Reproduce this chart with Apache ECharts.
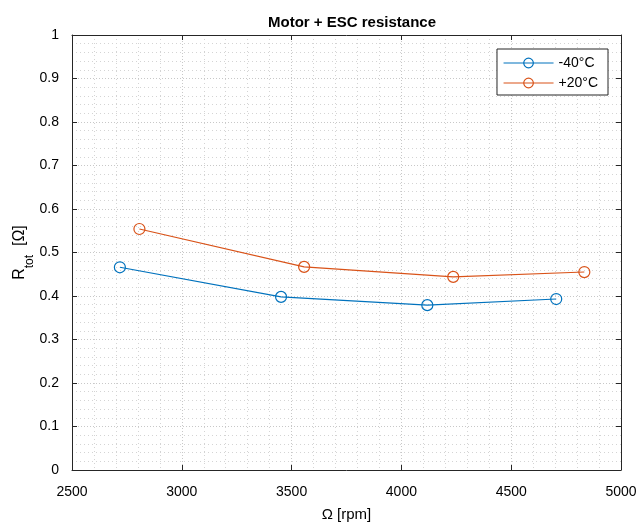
<!DOCTYPE html>
<html><head><meta charset="utf-8">
<script src="https://cdn.jsdelivr.net/npm/echarts@6/dist/echarts.min.js"></script>
<style>html,body{margin:0;padding:0;background:#fff}#c{width:640px;height:524px}</style>
</head><body><div id="c"></div>
<script>
const seriesNames = ['-40°C', '+20°C'];
const rpmCold = [2718, 3452, 4118, 4705];
const rCold = [0.466, 0.398, 0.379, 0.393];
const rpmWarm = [2807, 3557, 4236, 4833];
const rWarm = [0.554, 0.467, 0.444, 0.455];
const colors = ['#0072BD', '#D95319'];

const FONT = '"Liberation Sans", Arial, Helvetica, sans-serif';
const gridStyle = {show:true, lineStyle:{color:'#c8c8c8', type:[1,2], width:1}};
const minorStyle = {show:true, lineStyle:{color:'#d4d4d4', type:[1,3], width:1}};
const axisLine = {show:true, onZero:false, lineStyle:{color:'#262626', width:1}};
const tick = {show:true, inside:true, length:5, lineStyle:{color:'#262626'}};

function mk(name, xs, ys, c) {
  return {
    name: name, type:'line', data: xs.map((x,i)=>[x, ys[i]]),
    symbol:'circle', symbolSize:11,
    itemStyle:{color:'rgba(255,255,255,0)', borderColor:c, borderWidth:1.2},
    lineStyle:{color:c, width:1.1}, emphasis:{disabled:true}, animation:false, z:3
  };
}

const chart = echarts.init(document.getElementById('c'), null, {renderer:'canvas'});
chart.setOption({
  backgroundColor:'#fff',
  animation:false,
  title:{text:'Motor + ESC resistance', left:347, top:10, textAlign:'center',
    textStyle:{fontFamily:FONT, fontSize:15, fontWeight:'bold', color:'#000'}},
  legend:{right:32, top:49, orient:'vertical', backgroundColor:'#fff',
    borderColor:'#262626', borderWidth:1, padding:[7,10,5,6], itemGap:6,
    itemWidth:50, itemHeight:12,
    itemStyle:{borderWidth:1.2}, lineStyle:{width:1.1},
    textStyle:{fontFamily:FONT, fontSize:14, color:'#000'},
    data: seriesNames},
  grid:{left:72, right:19, top:35, bottom:54, containLabel:false, outerBoundsMode:'none'},
  xAxis:[{type:'value', min:2500, max:5000, interval:500, position:'bottom',
    name:'Ω [rpm]', nameLocation:'middle', nameGap:37, nameMoveOverlap:false,
    nameTextStyle:{fontFamily:FONT, fontSize:15, color:'#000'},
    axisLine:axisLine, axisTick:tick,
    axisLabel:{fontFamily:FONT, fontSize:14, color:'#000', margin:15, formatter:v=>String(v)},
    splitLine:gridStyle, minorTick:{show:false, splitNumber:5}, minorSplitLine:minorStyle},
   {type:'value', min:2500, max:5000, interval:500, position:'top',
    axisLine:axisLine, axisTick:tick, axisLabel:{show:false}, splitLine:{show:false}}],
  yAxis:[{type:'value', min:0, max:1, interval:0.1, position:'left',
    name:'{r|R}{s|tot}{r|  [Ω]}', nameLocation:'middle', nameGap:44, nameMoveOverlap:false,
    nameTextStyle:{rich:{r:{fontFamily:FONT, fontSize:16, color:'#000'},
      s:{fontFamily:FONT, fontSize:12, color:'#000', verticalAlign:'bottom', padding:[0,0,-8,0]}}},
    axisLine:axisLine, axisTick:tick,
    axisLabel:{fontFamily:FONT, fontSize:14, color:'#000', margin:13, formatter:v=>String(v)},
    splitLine:gridStyle, minorTick:{show:false, splitNumber:5}, minorSplitLine:minorStyle},
   {type:'value', min:0, max:1, interval:0.1, position:'right',
    axisLine:axisLine, axisTick:tick, axisLabel:{show:false}, splitLine:{show:false}}],
  series:[mk(seriesNames[0], rpmCold, rCold, colors[0]), mk(seriesNames[1], rpmWarm, rWarm, colors[1])]
});
</script></body></html>
